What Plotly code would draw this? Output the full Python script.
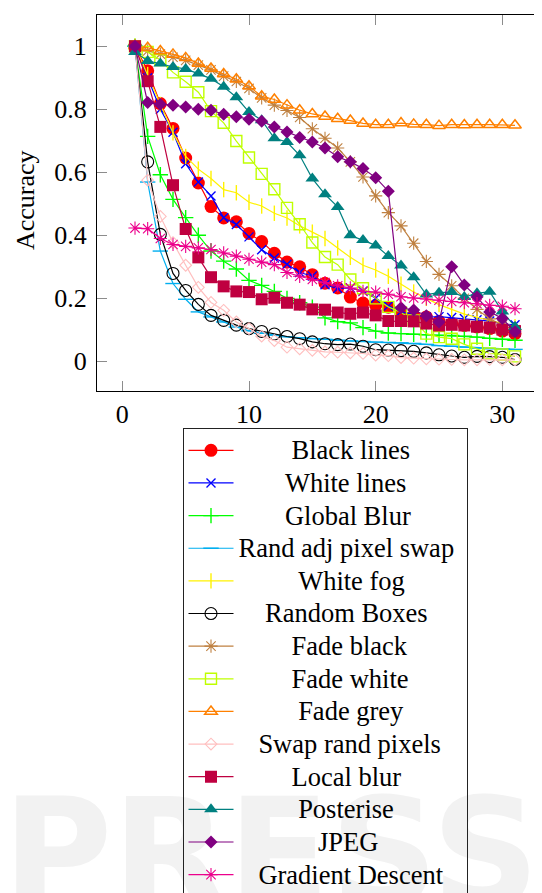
import plotly.graph_objects as go

# ---------------- data ----------------
steps = list(range(1, 32))

black_lines = [1.0, 0.922, 0.818, 0.739, 0.645, 0.566, 0.491, 0.455, 0.443, 0.406, 0.38, 0.343, 0.315, 0.3, 0.275,
               0.248, 0.233, 0.204, 0.185, 0.178, 0.172, 0.15, 0.146, 0.141, 0.127, 0.12, 0.114, 0.109, 0.104, 0.096, 0.088]
white_lines = [1.0, 0.9, 0.8, 0.727, 0.627, 0.569, 0.525, 0.456, 0.434, 0.395, 0.354, 0.328, 0.308, 0.282, 0.271,
               0.243, 0.231, 0.233, 0.223, 0.2, 0.176, 0.158, 0.15, 0.14, 0.142, 0.139, 0.136, 0.132, 0.128, 0.118, 0.116]
global_blur = [1.0, 0.714, 0.592, 0.514, 0.456, 0.4, 0.35, 0.318, 0.293, 0.257, 0.241, 0.222, 0.2, 0.186, 0.172,
               0.138, 0.126, 0.122, 0.107, 0.096, 0.09, 0.088, 0.086, 0.084, 0.083, 0.082, 0.08, 0.077, 0.073, 0.07, 0.067]
rand_adj_swap = [1.0, 0.569, 0.35, 0.247, 0.197, 0.157, 0.141, 0.125, 0.109, 0.097, 0.089, 0.083, 0.078, 0.075, 0.072,
                 0.07, 0.067, 0.065, 0.063, 0.061, 0.06, 0.059, 0.057, 0.054, 0.05, 0.048, 0.045, 0.042, 0.04, 0.039, 0.038]
white_fog = [1.0, 0.91, 0.815, 0.725, 0.65, 0.61, 0.58, 0.545, 0.535, 0.505, 0.493, 0.47, 0.455, 0.43, 0.41,
             0.39, 0.36, 0.33, 0.305, 0.29, 0.27, 0.245, 0.22, 0.2, 0.18, 0.165, 0.15, 0.14, 0.13, 0.12, 0.11]
random_boxes = [1.0, 0.633, 0.403, 0.279, 0.225, 0.181, 0.146, 0.13, 0.115, 0.104, 0.095, 0.087, 0.079, 0.072, 0.062,
                0.056, 0.053, 0.055, 0.048, 0.037, 0.036, 0.034, 0.032, 0.027, 0.021, 0.017, 0.013, 0.016, 0.015, 0.013, 0.006]
fade_black = [1.0, 0.985, 0.975, 0.965, 0.955, 0.94, 0.925, 0.905, 0.888, 0.866, 0.836, 0.813, 0.796, 0.774, 0.738,
              0.708, 0.677, 0.633, 0.585, 0.525, 0.472, 0.43, 0.375, 0.317, 0.276, 0.24, 0.2, 0.165, 0.135, 0.115, 0.1]
fade_white = [1.0, 0.982, 0.956, 0.917, 0.887, 0.854, 0.794, 0.757, 0.699, 0.647, 0.595, 0.546, 0.487, 0.435, 0.377,
              0.331, 0.307, 0.26, 0.232, 0.2, 0.173, 0.155, 0.13, 0.088, 0.077, 0.072, 0.054, 0.04, 0.025, 0.022, 0.016]
fade_grey = [1.0, 0.995, 0.985, 0.974, 0.963, 0.945, 0.929, 0.912, 0.895, 0.873, 0.841, 0.831, 0.813, 0.797, 0.785,
             0.777, 0.77, 0.764, 0.755, 0.751, 0.751, 0.756, 0.752, 0.751, 0.748, 0.751, 0.75, 0.751, 0.751, 0.751, 0.749]
swap_rand_pixels = [1.0, 0.575, 0.46, 0.377, 0.305, 0.235, 0.187, 0.162, 0.125, 0.104, 0.08, 0.066, 0.045, 0.04, 0.035,
                    0.03, 0.029, 0.027, 0.025, 0.02, 0.018, 0.012, 0.01, 0.008, 0.007, 0.006, 0.005, 0.005, 0.006, 0.005, 0.005]
local_blur = [1.0, 0.889, 0.744, 0.559, 0.42, 0.33, 0.267, 0.238, 0.222, 0.22, 0.197, 0.202, 0.186, 0.18, 0.165,
              0.164, 0.155, 0.151, 0.155, 0.146, 0.128, 0.128, 0.127, 0.12, 0.114, 0.116, 0.114, 0.11, 0.107, 0.101, 0.096]
posterise = [0.982, 0.953, 0.945, 0.934, 0.928, 0.913, 0.897, 0.871, 0.838, 0.791, 0.765, 0.708, 0.696, 0.654, 0.58,
             0.53, 0.49, 0.40, 0.385, 0.368, 0.334, 0.304, 0.267, 0.212, 0.218, 0.22, 0.204, 0.216, 0.221, 0.158, 0.11]
jpeg = [1.0, 0.821, 0.816, 0.813, 0.807, 0.8, 0.797, 0.784, 0.776, 0.768, 0.762, 0.744, 0.728, 0.71, 0.696,
        0.677, 0.649, 0.633, 0.612, 0.583, 0.54, 0.17, 0.163, 0.145, 0.125, 0.3, 0.242, 0.204, 0.157, 0.136, 0.094]
gradient_descent = [0.423, 0.421, 0.39, 0.371, 0.365, 0.36, 0.355, 0.344, 0.334, 0.324, 0.315, 0.307, 0.282, 0.27, 0.26,
                    0.25, 0.24, 0.233, 0.222, 0.22, 0.213, 0.205, 0.201, 0.198, 0.194, 0.19, 0.186, 0.183, 0.178, 0.175, 0.167]

series_names = ["Black lines", "White lines", "Global Blur", "Rand adj pixel swap", "White fog", "Random Boxes",
                "Fade black", "Fade white", "Fade grey", "Swap rand pixels", "Local blur", "Posterise", "JPEG",
                "Gradient Descent"]
series_values = [black_lines, white_lines, global_blur, rand_adj_swap, white_fog, random_boxes, fade_black,
                 fade_white, fade_grey, swap_rand_pixels, local_blur, posterise, jpeg, gradient_descent]

x_tick_values = [0, 10, 20, 30]
y_axis_title = "Accuracy"

# ---------------- styles ----------------
# (color, symbol, size, marker outline width; 0 => filled symbol)
styles = [
    ("#ff0000", "circle", 13, 0),
    ("#0000ff", "x-thin", 9, 1.4),
    ("#00ff00", "cross-thin", 11, 1.4),
    ("#00aeef", "line-ew", 11, 1.4),
    ("#fff200", "line-ns", 11, 1.4),
    ("#000000", "circle-open", 12, 1.1),
    ("#bf8040", "asterisk", 11, 1.1),
    ("#bfff00", "square-open", 11, 1.4),
    ("#ff8000", "triangle-up-open", 11, 1.5),
    ("#ffbfbf", "diamond-open", 9, 1.1),
    ("#bf0040", "square", 12, 0),
    ("#008080", "triangle-up", 12, 0),
    ("#800080", "diamond", 10, 0),
    ("#ec008c", "asterisk", 11, 1.1),
]

SERIF = "Liberation Serif"
LEG_TEXT = 26.5
# The page body has an 8 px margin, so figure coordinates are screen coordinates minus 8.
OFF = 8
# Times-Roman advance widths (per 1000 em) used to centre legend texts like the original
TIMES_W = {" ": 250, "A": 722, "B": 667, "C": 667, "D": 722, "E": 611, "F": 556, "G": 722, "J": 389, "L": 611,
           "P": 556, "R": 667, "S": 556, "W": 944, "a": 444, "b": 500, "c": 444, "d": 500, "e": 444, "f": 333,
           "g": 500, "h": 500, "i": 278, "j": 278, "k": 500, "l": 278, "m": 778, "n": 500, "o": 500, "p": 500,
           "r": 333, "s": 389, "t": 278, "u": 500, "w": 722, "x": 500, "y": 500}
LEG_LEFT = 182.5                 # screen px of legend left border
TEXT_START = LEG_LEFT + 57.0     # screen px where legend text begins
TEXT_CENTRE = 349.5              # screen px centre of legend text column
NBSP_W = 0.25 * LEG_TEXT


def centred(name):
    w = sum(TIMES_W.get(c, 500) for c in name) / 1000.0 * LEG_TEXT
    pad = max(0, round((TEXT_CENTRE - w / 2 - TEXT_START) / NBSP_W))
    return '<span style="font-size:%spx">%s%s\u00a0</span>' % (LEG_TEXT, "\u00a0" * pad, name)


fig = go.Figure()
for name, vals, (col, sym, size, lw) in zip(series_names, series_values, styles):
    if lw == 0:
        marker = dict(symbol=sym, size=size, color=col, line=dict(width=0))
    else:
        marker = dict(symbol=sym, size=size, color=col, line=dict(width=lw, color=col))
    fig.add_trace(go.Scatter(x=steps, y=vals, mode="lines+markers", name=centred(name),
                             line=dict(color=col, width=1.2), marker=marker, cliponaxis=False))

# figure larger than the window on the right and bottom, like the cropped original
W, H = 560, 1000
L, T, R, B = 97 - OFF, 15 - OFF, 545, 391 - OFF
fig.update_layout(
    width=W, height=H,
    margin=dict(l=L, r=W - R, t=T, b=H - B, pad=0, autoexpand=False),
    paper_bgcolor="white", plot_bgcolor="white",
    font=dict(family=SERIF, size=26, color="black"),
    showlegend=True,
    legend=dict(xref="container", yref="container", x=(LEG_LEFT - OFF) / W, y=1 - (428 - OFF) / H,
                xanchor="left", yanchor="top", bordercolor="#222222", borderwidth=1,
                bgcolor="rgba(0,0,0,0)", font=dict(family=SERIF, size=22.8, color="black"),
                itemwidth=45, tracegroupgap=0, itemclick=False, itemdoubleclick=False),
    annotations=[dict(text=y_axis_title, xref="paper", yref="paper",
                      x=(25 - OFF - L) / (R - L), y=(B - (200 - OFF)) / (B - T),
                      xanchor="center", yanchor="middle", textangle=-90, showarrow=False,
                      font=dict(family=SERIF, size=26, color="black"))],
    shapes=[dict(type="rect", xref="paper", yref="paper", x0=(0 - OFF - L) / (R - L), x1=(534 - L) / (R - L),
                 y0=(B - (950 - OFF)) / (B - T), y1=(B - (734 - OFF)) / (B - T), layer="below",
                 line=dict(width=0), fillcolor="rgba(0,0,0,0)",
                 label=dict(text="PRESS", font=dict(family="DejaVu Sans", size=150, color="#f2f2f2",
                                                    weight="bold"),
                            textposition="middle center"))],
)
fig.update_xaxes(range=[-2.0, -2.0 + (R - L) / 12.667], tickvals=x_tick_values, ticks="inside", ticklen=10,
                 tickwidth=1, tickcolor="#8c8c8c", showline=True, linecolor="black", linewidth=1.2,
                 mirror="ticks", showgrid=False, zeroline=False,
                 tickfont=dict(family=SERIF, size=26, color="black"))
fig.update_yaxes(range=[-0.094, 1.099], tick0=0, dtick=0.2, ticks="inside", ticklen=10, tickwidth=1,
                 tickcolor="#8c8c8c", showline=True, linecolor="black", linewidth=1.2, mirror=False,
                 showgrid=False, zeroline=False, ticklabelstandoff=4,
                 tickfont=dict(family=SERIF, size=26, color="black"))

fig.write_html("out.html")
